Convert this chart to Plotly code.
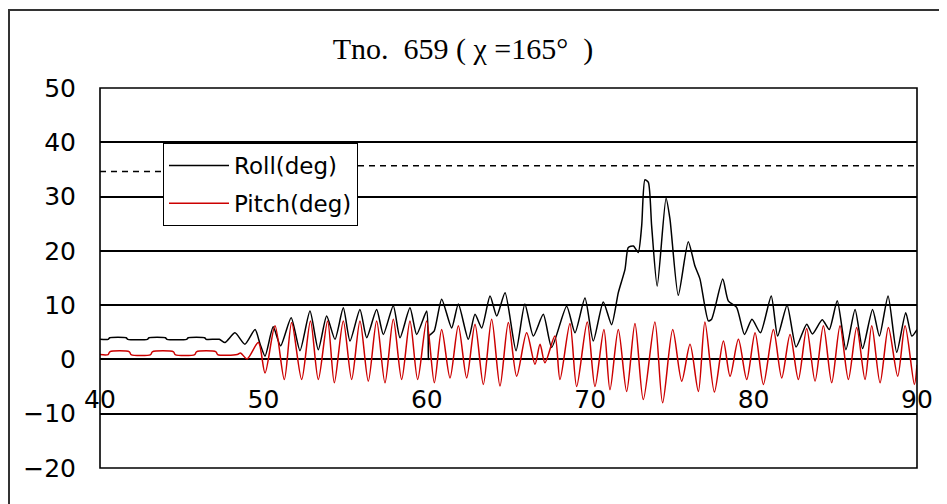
import plotly.graph_objects as go

# ---------------- data ----------------
x_ticks = [40, 50, 60, 70, 80, 90]
y_ticks = [-20, -10, 0, 10, 20, 30, 40, 50]

thresh_time = [40.0, 54.5, 54.5, 90.0]
thresh_deg = [34.6, 34.6, 35.7, 35.7]

roll_time = [
    40.0, 40.5, 40.6, 41.6, 41.7, 42.9, 43.0, 44.0,
    44.1, 45.3, 45.4, 46.4, 46.5, 47.3, 47.65, 48.26,
    48.87, 49.49, 49.8, 50.1, 50.6, 51.05, 51.7, 52.24,
    52.85, 53.36, 53.87, 54.38, 54.89, 55.3, 55.91, 56.32,
    56.93, 57.34, 57.95, 58.36, 58.97, 59.38, 59.99, 60.08,
    60.1, 60.13, 60.45, 60.91, 61.52, 61.93, 62.54, 62.95,
    63.36, 63.87, 64.28, 64.79, 65.46, 66.0, 66.52, 67.13,
    67.64, 68.56, 69.07, 69.68, 70.19, 70.8, 71.31, 71.72,
    72.13, 72.33, 72.64, 72.94, 73.15, 73.35, 73.56, 73.76,
    74.1, 74.64, 74.88, 75.39, 76.0, 76.41, 76.72, 77.23,
    77.43, 78.11, 78.45, 78.96, 79.44, 79.9, 80.42, 81.08,
    81.47, 82.05, 82.6, 83.25, 83.6, 84.2, 84.63, 85.12,
    85.65, 86.21, 86.67, 87.28, 87.7, 88.23, 88.76, 89.31,
    89.68, 90.0]
roll_deg = [
    3.7, 3.7, 4.0, 4.0, 3.7, 3.7, 4.0, 4.0,
    3.7, 3.7, 4.0, 4.0, 3.7, 3.7, 3.1, 4.9,
    2.8, 5.5, 2.8, 0.6, 6.0, 2.5, 7.7, 1.6,
    8.9, 1.8, 8.0, 3.7, 9.5, 3.4, 9.2, 4.0,
    9.2, 4.6, 9.9, 4.0, 9.5, 4.6, 8.9, 4.3,
    0.0, 4.3, 5.2, 11.1, 5.8, 10.2, 3.7, 8.3,
    5.8, 11.7, 8.0, 12.3, 1.6, 10.2, 4.3, 8.3,
    2.2, 9.8, 4.9, 11.3, 3.4, 10.6, 6.4, 12.3,
    16.6, 20.6, 20.9, 19.7, 24.6, 33.1, 32.6, 24.6,
    13.5, 29.7, 25.9, 11.8, 21.7, 17.2, 14.8, 7.1,
    7.4, 14.8, 10.8, 9.6, 4.6, 7.4, 4.9, 11.7,
    4.3, 10.0, 2.3, 6.5, 4.7, 7.3, 5.5, 10.8,
    1.8, 9.2, 2.0, 9.2, 4.3, 11.7, 1.3, 8.6,
    4.3, 5.5]

pitch_time = [
    40.0, 40.5, 40.6, 41.8, 41.9, 43.1, 43.2, 44.5,
    44.6, 45.8, 45.9, 47.1, 47.2, 48.4, 48.6, 49.0,
    49.69, 50.1, 50.71, 51.28, 51.73, 52.34, 52.88, 53.36,
    53.93, 54.34, 54.89, 55.40, 55.91, 56.42, 56.93, 57.44,
    57.95, 58.46, 58.97, 59.44, 59.99, 60.46, 60.91, 61.42,
    61.93, 62.44, 62.95, 63.46, 63.97, 64.48, 64.99, 65.5,
    66.11, 66.62, 66.93, 67.23, 67.84, 68.15, 68.76, 69.17,
    69.82, 70.29, 70.84, 71.21, 71.72, 72.23, 72.74, 73.25,
    73.96, 74.43, 75.05, 75.6, 76.11, 76.62, 77.02, 77.6,
    78.15, 78.56, 79.07, 79.58, 80.09, 80.6, 81.21, 81.72,
    82.23, 82.74, 83.25, 83.76, 84.27, 84.78, 85.29, 85.8,
    86.31, 86.82, 87.23, 87.74, 88.25, 88.82, 89.27, 89.84,
    90.0]
pitch_deg = [
    0.9, 0.9, 1.4, 1.4, 0.9, 0.9, 1.4, 1.4,
    0.9, 0.9, 1.4, 1.4, 0.9, 0.9, 1.2, 0.1,
    3.1, -2.5, 6.2, -3.7, 6.8, -3.7, 7.1, -3.7,
    7.1, -4.3, 7.1, -3.7, 7.1, -4.0, 7.1, -4.3,
    7.4, -3.7, 7.1, -3.7, 7.1, -4.3, 5.5, -3.4,
    6.2, -3.4, 6.5, -4.6, 7.4, -4.9, 6.8, -3.1,
    4.9, -0.9, 2.8, -0.6, 4.3, -3.7, 6.6, -5.0,
    6.9, -5.0, 5.5, -5.6, 5.5, -5.9, 6.6, -7.4,
    6.9, -8.0, 5.5, -4.0, 2.8, -5.9, 6.9, -6.0,
    3.4, -3.1, 3.7, -3.7, 4.9, -4.6, 5.5, -3.4,
    4.6, -3.7, 5.7, -4.0, 6.2, -4.3, 6.2, -3.7,
    5.9, -3.7, 6.2, -4.3, 5.9, -3.1, 6.2, -4.6,
    -1.0]

assert len(roll_time) == len(roll_deg)
assert len(pitch_time) == len(pitch_deg)

# ---------------- layout geometry ----------------
# the page body adds an 8px offset, so target pixel positions are shifted
OX, OY = 8, 8
W, H = 947, 504
PLOT_L, PLOT_T, PW, PH = 100 - OX, 88 - OY, 817, 380
L, T = PLOT_L, PLOT_T
R = W - L - PW
B = H - T - PH


def fx(px):
    return (px - OX - L) / PW


def fy(py):
    return (T + PH - (py - OY)) / PH


fig = go.Figure()
fig.add_trace(go.Scatter(
    x=thresh_time, y=thresh_deg, mode="lines", showlegend=False,
    hoverinfo="skip", line=dict(color="black", width=1.5, dash="6px,5px")))
fig.add_trace(go.Scatter(
    x=roll_time, y=roll_deg, mode="lines", name="Roll(deg)", legendgroup="roll",
    line=dict(color="black", width=1.5, shape="spline", smoothing=0.6)))
fig.add_trace(go.Scatter(
    x=pitch_time, y=pitch_deg, mode="lines", name="Pitch(deg)", legendgroup="pitch",
    line=dict(color="#cc0000", width=1.5, shape="spline", smoothing=0.8)))

fig.update_layout(
    width=W, height=H,
    margin=dict(l=L, r=R, t=T, b=B, pad=0, autoexpand=False),
    paper_bgcolor="white", plot_bgcolor="white",
    font=dict(family="DejaVu Sans", size=23, color="black"),
    title=dict(text="Tno.  659 ( χ =165°  )", x=(463 - OX) / W, xanchor="center",
               y=1 - (48 - OY) / H, yanchor="middle",
               font=dict(family="Liberation Serif", size=30, color="black")),
    xaxis=dict(range=[40, 90], tickvals=x_ticks, showgrid=False, zeroline=False,
               showline=False, anchor="free", position=20 / 70, ticks="",
               ticklabelstandoff=23, tickfont=dict(size=25), automargin=False),
    yaxis=dict(range=[-20, 50], tickvals=y_ticks, showgrid=True, gridcolor="black",
               gridwidth=1.6, zeroline=True, zerolinecolor="black", zerolinewidth=1.6,
               showline=False, ticks="", ticklabelstandoff=23, tickfont=dict(size=25),
               automargin=False),
    legend=dict(x=fx(163), y=fy(143), xanchor="left", yanchor="top",
                bgcolor="white", bordercolor="black", borderwidth=1,
                font=dict(size=23), tracegroupgap=5, itemwidth=60),
    shapes=[
        dict(type="rect", xref="paper", yref="paper", x0=0, x1=1, y0=0, y1=1,
             line=dict(color="black", width=1.6)),
        dict(type="rect", xref="paper", yref="paper", x0=fx(9), x1=fx(1010),
             y0=fy(620), y1=fy(10), line=dict(color="#333333", width=2)),
    ],
)

fig.write_html("out.html")
